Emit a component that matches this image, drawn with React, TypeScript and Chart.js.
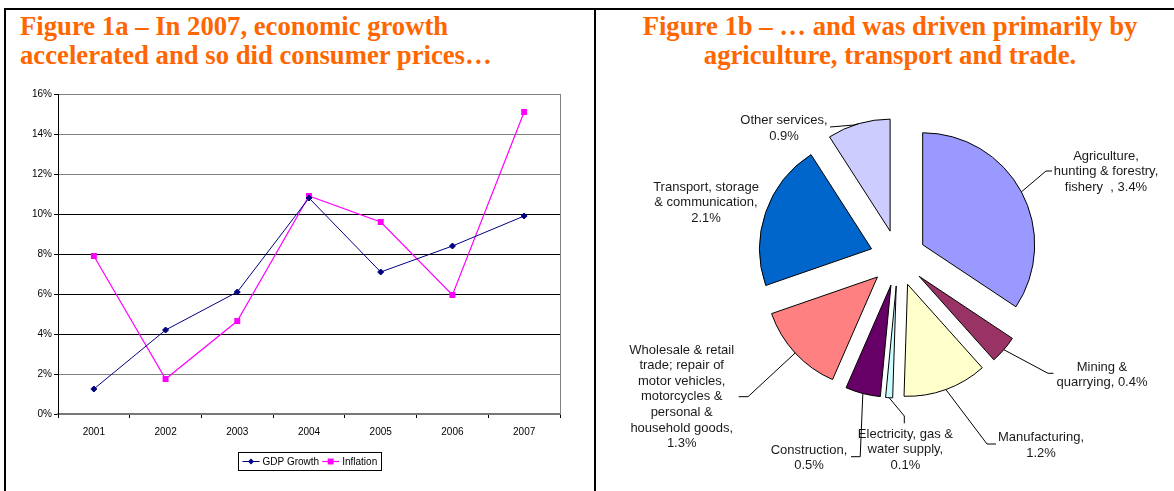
import React, { useEffect, useRef } from "react";
import { Chart, registerables } from "chart.js";

Chart.register(...registerables);

// ---------------- data ----------------
const YEARS = ["2001", "2002", "2003", "2004", "2005", "2006", "2007"];
const GDP_GROWTH = [1.25, 4.2, 6.1, 10.8, 7.1, 8.4, 9.9];
const INFLATION = [7.9, 1.75, 4.65, 10.9, 9.6, 5.95, 15.1];
const SERIES_NAMES = ["GDP Growth", "Inflation"];
const Y_MIN = 0;
const Y_MAX = 16;
const Y_STEP = 2;

const SECTOR_NAMES = [
  "Agriculture,\nhunting & forestry,\nfishery  , ",
  "Mining &\nquarrying, ",
  "Manufacturing,\n",
  "Electricity, gas &\nwater supply,\n",
  "Construction,\n",
  "Wholesale & retail\ntrade; repair of\nmotor vehicles,\nmotorcycles &\npersonal &\nhousehold goods,\n",
  "Transport, storage\n& communication,\n",
  "Other services,\n",
];
const SECTOR_SHARES = [3.4, 0.4, 1.2, 0.1, 0.5, 1.3, 2.1, 0.9];

// ---------------- styles ----------------
const SECTOR_COLORS = [
  "#9999FF",
  "#993366",
  "#FFFFCC",
  "#CCFFFF",
  "#660066",
  "#FF8080",
  "#0066CC",
  "#CCCCFF",
];
const EXPLODE = 28;
const PIE_RADIUS = 112;
const LABEL_LINE_H = 15.6;
// label placement relative to pie centre (text centre of first line, leader polyline)
const LABEL_LAYOUT: { dx: number; dy: number; leader: number[][] }[] = [
  { dx: 208, dy: -102, leader: [[148, -87], [154, -87]] },
  { dx: 204, dy: 109.3, leader: [[150, 115.3], [155.4, 115.3]] },
  { dx: 143, dy: 179.7, leader: [[89, 186], [98, 186]] },
  { dx: 7.4, dy: 176, leader: [[6.3, 158], [6.3, 165.3]] },
  { dx: -89, dy: 192, leader: [[-37.8, 198.7], [-47, 198.7]] },
  { dx: -216.3, dy: 92, leader: [[-150, 138.7], [-159.3, 138.7]] },
  { dx: -192, dy: -70.7, leader: [] },
  { dx: -114, dy: -137.3, leader: [[-44, -133], [-68, -131]] },
];

const SANS = '"Liberation Sans", Arial, sans-serif';
const SERIF = '"Liberation Serif", "Times New Roman", serif';
const ORANGE = "#FF6600";

Chart.defaults.font.family = SANS;

function drawMarker(ctx: CanvasRenderingContext2D, style: string, x: number, y: number, r: number, color: string) {
  ctx.save();
  ctx.fillStyle = color;
  ctx.beginPath();
  if (style === "rectRot") {
    ctx.moveTo(x, y - r);
    ctx.lineTo(x + r, y);
    ctx.lineTo(x, y + r);
    ctx.lineTo(x - r, y);
    ctx.closePath();
  } else {
    const s = r * Math.SQRT1_2;
    ctx.rect(x - s, y - s, 2 * s, 2 * s);
  }
  ctx.fill();
  ctx.restore();
}

const boxLegendPlugin = {
  id: "boxLegend",
  afterDraw(chart: any) {
    const ctx: CanvasRenderingContext2D = chart.ctx;
    const ca = chart.chartArea;
    ctx.save();
    ctx.font = `10px ${SANS}`;
    const items = chart.data.datasets.map((ds: any) => ({ ds, w: ctx.measureText(ds.label).width }));
    const sample = 17;
    const gapS = 3;
    const gapI = 3;
    const pad = 4;
    const total =
      pad * 2 +
      items.reduce((a: number, it: any) => a + sample + gapS + it.w, 0) +
      gapI * (items.length - 1);
    const h = 18;
    const x0 = Math.round((ca.left + ca.right) / 2 - total / 2) + 0.5;
    const y0 = Math.round(ca.bottom + 38) + 0.5;
    ctx.strokeStyle = "#000";
    ctx.lineWidth = 1;
    ctx.strokeRect(x0, y0, Math.round(total), h);
    let x = x0 + pad;
    const cy = y0 + h / 2;
    items.forEach(({ ds, w }: any) => {
      ctx.strokeStyle = ds.borderColor;
      ctx.lineWidth = ds.borderWidth;
      ctx.beginPath();
      ctx.moveTo(x, cy);
      ctx.lineTo(x + sample, cy);
      ctx.stroke();
      drawMarker(ctx, ds.pointStyle, x + sample / 2, cy, ds.pointRadius, ds.pointBackgroundColor);
      x += sample + gapS;
      ctx.fillStyle = "#000";
      ctx.textBaseline = "middle";
      ctx.textAlign = "left";
      ctx.fillText(ds.label, x, cy + 0.5);
      x += w + gapI;
    });
    ctx.restore();
  },
};

const plotBorderPlugin = {
  id: "plotBorder",
  beforeDatasetsDraw(chart: any) {
    const { ctx, chartArea: ca } = chart;
    ctx.save();
    ctx.strokeStyle = "#808080";
    ctx.lineWidth = 1;
    ctx.beginPath();
    ctx.moveTo(Math.round(ca.right) + 0.5, ca.top);
    ctx.lineTo(Math.round(ca.right) + 0.5, ca.bottom);
    ctx.stroke();
    ctx.restore();
  },
};

const explodePlugin = {
  id: "explode",
  beforeDatasetDraw(chart: any, args: any) {
    const ctx: CanvasRenderingContext2D = chart.ctx;
    args.meta.data.forEach((arc: any) => {
      const { startAngle, endAngle } = arc.getProps(["startAngle", "endAngle"], true);
      const mid = (startAngle + endAngle) / 2;
      ctx.save();
      ctx.translate(Math.cos(mid) * EXPLODE, Math.sin(mid) * EXPLODE);
      arc.draw(ctx, chart.chartArea);
      ctx.restore();
    });
    return false;
  },
};

const pieLabelPlugin = {
  id: "pieLabels",
  afterDatasetsDraw(chart: any) {
    const ctx: CanvasRenderingContext2D = chart.ctx;
    const meta = chart.getDatasetMeta(0);
    const values = chart.data.datasets[0].data;
    ctx.save();
    ctx.font = `13px ${SANS}`;
    ctx.fillStyle = "#1a1a1a";
    ctx.textAlign = "center";
    ctx.textBaseline = "middle";
    meta.data.forEach((arc: any, i: number) => {
      const { x, y, startAngle, endAngle, outerRadius } = arc.getProps(
        ["x", "y", "startAngle", "endAngle", "outerRadius"],
        true
      );
      const mid = (startAngle + endAngle) / 2;
      const ax = x + Math.cos(mid) * (EXPLODE + outerRadius);
      const ay = y + Math.sin(mid) * (EXPLODE + outerRadius);
      const lay = LABEL_LAYOUT[i];
      if (lay.leader.length) {
        ctx.strokeStyle = "#000";
        ctx.lineWidth = 1;
        ctx.beginPath();
        ctx.moveTo(ax, ay);
        lay.leader.forEach(([dx, dy]) => ctx.lineTo(x + dx, y + dy));
        ctx.stroke();
      }
      const text = chart.data.labels[i] + Number(values[i]).toFixed(1) + "%";
      text.split("\n").forEach((line: string, k: number) => {
        ctx.fillText(line, x + lay.dx, y + lay.dy + k * LABEL_LINE_H);
      });
    });
    ctx.restore();
  },
};

export default function App() {
  const lineRef = useRef<HTMLCanvasElement>(null);
  const pieRef = useRef<HTMLCanvasElement>(null);

  useEffect(() => {
    const lineChart = new Chart(lineRef.current as HTMLCanvasElement, {
      type: "line",
      data: {
        labels: YEARS,
        datasets: [
          {
            label: SERIES_NAMES[0],
            data: GDP_GROWTH,
            borderColor: "#000080",
            backgroundColor: "#000080",
            pointBackgroundColor: "#000080",
            pointBorderColor: "#000080",
            borderWidth: 1,
            pointStyle: "rectRot",
            pointRadius: 3,
            pointBorderWidth: 1,
            tension: 0,
          } as any,
          {
            label: SERIES_NAMES[1],
            data: INFLATION,
            borderColor: "#FF00FF",
            backgroundColor: "#FF00FF",
            pointBackgroundColor: "#FF00FF",
            pointBorderColor: "#FF00FF",
            borderWidth: 1.2,
            pointStyle: "rect",
            pointRadius: 4.2,
            pointBorderWidth: 0,
            tension: 0,
          } as any,
        ],
      },
      options: {
        animation: false,
        responsive: false,
        layout: { padding: { left: 0, right: 34, top: 14, bottom: 47 } },
        plugins: { legend: { display: false }, tooltip: { enabled: false } },
        scales: {
          x: {
            type: "category",
            offset: true,
            grid: {
              offset: true,
              drawOnChartArea: false,
              drawTicks: true,
              tickLength: 4,
              color: "#000",
              tickColor: "#000",
            },
            border: { color: "#777", width: 2 },
            ticks: { font: { size: 10 }, color: "#000", padding: 8, maxRotation: 0, autoSkip: false },
            afterFit: (s: any) => {
              s.height = 30;
            },
          },
          y: {
            min: Y_MIN,
            max: Y_MAX,
            ticks: {
              stepSize: Y_STEP,
              font: { size: 10 },
              color: "#000",
              padding: 2,
              callback: (v: any) => v + "%",
            },
            grid: {
              color: (c: any) => {
                const v = c.tick ? c.tick.value : 0;
                return v >= 4 && v <= 10 ? "#000" : "#808080";
              },
              tickColor: "#000",
              tickLength: 4,
              drawTicks: true,
            },
            border: { color: "#000", width: 1 },
            afterFit: (s: any) => {
              s.width = 58;
            },
          },
        },
      } as any,
      plugins: [plotBorderPlugin, boxLegendPlugin],
    });

    const pieChart = new Chart(pieRef.current as HTMLCanvasElement, {
      type: "pie",
      data: {
        labels: SECTOR_NAMES,
        datasets: [
          {
            data: SECTOR_SHARES,
            backgroundColor: SECTOR_COLORS,
            borderColor: "#000",
            borderWidth: 1,
            borderJoinStyle: "miter",
            hoverOffset: 0,
          } as any,
        ],
      },
      options: {
        animation: false,
        responsive: false,
        radius: PIE_RADIUS,
        layout: { padding: { left: 26, right: 0, top: 0, bottom: 55 } },
        plugins: { legend: { display: false }, tooltip: { enabled: false } },
      } as any,
      plugins: [explodePlugin, pieLabelPlugin],
    });

    return () => {
      lineChart.destroy();
      pieChart.destroy();
    };
  }, []);

  const titleBase: React.CSSProperties = {
    position: "absolute",
    top: 12,
    fontFamily: SERIF,
    fontWeight: "bold",
    fontSize: 26.7,
    lineHeight: "29px",
    color: ORANGE,
    whiteSpace: "nowrap",
  };

  return (
    <div
      style={{
        position: "absolute",
        left: 0,
        top: 0,
        width: 1174,
        height: 491,
        overflow: "hidden",
        background: "#fff",
      }}
    >
      <div style={{ position: "absolute", left: 4, top: 8, width: 1170, height: 2, background: "#000" }} />
      <div style={{ position: "absolute", left: 4, top: 8, width: 2, height: 483, background: "#000" }} />
      <div style={{ position: "absolute", left: 594, top: 8, width: 2, height: 483, background: "#000" }} />
      <div style={{ ...titleBase, left: 20 }}>
        Figure 1a – In 2007, economic growth
        <br />
        accelerated and so did consumer prices…
      </div>
      <div style={{ ...titleBase, left: 596, width: 588, textAlign: "center" }}>
        Figure 1b – … and was driven primarily by
        <br />
        agriculture, transport and trade.
      </div>
      <canvas
        ref={lineRef}
        width={594}
        height={411}
        style={{ position: "absolute", left: 0, top: 80, width: 594, height: 411 }}
      />
      <canvas
        ref={pieRef}
        width={578}
        height={411}
        style={{ position: "absolute", left: 596, top: 80, width: 578, height: 411 }}
      />
    </div>
  );
}
